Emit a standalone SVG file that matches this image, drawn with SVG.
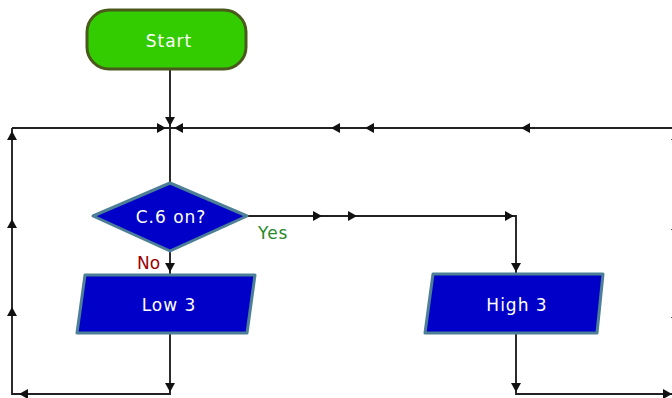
<svg xmlns="http://www.w3.org/2000/svg" xmlns:xlink="http://www.w3.org/1999/xlink" width="672" height="398" viewBox="0 0 672 398">
<style>
.ln{fill:none;stroke:#222;stroke-width:1.9}
.lbl{font-family:"DejaVu Sans",Verdana,sans-serif;font-size:17px;fill:#ffffff;text-anchor:middle;letter-spacing:1px}
.blue{fill:#0000c8;stroke:#4d7f96;stroke-width:3;stroke-linejoin:round}
.start{fill:#33cc00;stroke:#4a5a1c;stroke-width:3}
.yes{font-family:"DejaVu Sans",Verdana,sans-serif;font-size:17px;fill:#2a8a2a;letter-spacing:1px}
.no{font-family:"DejaVu Sans",Verdana,sans-serif;font-size:17px;fill:#990000}
</style>
<defs>
<path id="ah" d="M0,0 L-9,-5 L-9,5 Z" fill="#111"/>
</defs>
<g id="connectors">
<path class="ln" d="M170,70 V183"/>
<path class="ln" d="M12,128 H672"/>
<path class="ln" d="M12,128 V394 H170 V333"/>
<path class="ln" d="M247,216 H516 V274"/>
<path class="ln" d="M170,251 V274"/>
<path class="ln" d="M516,333 V394 H672"/>
<use xlink:href="#ah" transform="translate(170,126) rotate(90)"/>
<use xlink:href="#ah" transform="translate(166,128)"/>
<use xlink:href="#ah" transform="translate(174,128) rotate(180)"/>
<use xlink:href="#ah" transform="translate(331,128) rotate(180)"/>
<use xlink:href="#ah" transform="translate(365,128) rotate(180)"/>
<use xlink:href="#ah" transform="translate(521,128) rotate(180)"/>
<use xlink:href="#ah" transform="translate(12,131) rotate(-90)"/>
<use xlink:href="#ah" transform="translate(12,219) rotate(-90)"/>
<use xlink:href="#ah" transform="translate(12,307) rotate(-90)"/>
<use xlink:href="#ah" transform="translate(19,394) rotate(180)"/>
<use xlink:href="#ah" transform="translate(170,392) rotate(90)"/>
<use xlink:href="#ah" transform="translate(170,272) rotate(90)"/>
<use xlink:href="#ah" transform="translate(322,216)"/>
<use xlink:href="#ah" transform="translate(357,216)"/>
<use xlink:href="#ah" transform="translate(514,216)"/>
<use xlink:href="#ah" transform="translate(516,272) rotate(90)"/>
<use xlink:href="#ah" transform="translate(516,392) rotate(90)"/>
<use xlink:href="#ah" transform="translate(672,394)"/>
<use xlink:href="#ah" transform="translate(676,131) rotate(-90)"/>
<use xlink:href="#ah" transform="translate(676,221) rotate(-90)"/>
<use xlink:href="#ah" transform="translate(676,309) rotate(-90)"/>
</g>
<g id="start">
<rect class="start" x="87" y="10" width="159" height="59" rx="22" ry="22"/>
<text class="lbl" x="169" y="47">Start</text>
</g>
<g id="decision">
<path class="blue" d="M170,183 L247,216 L170,251 L93,216 Z"/>
<text class="lbl" x="171" y="223">C.6 on?</text>
<text class="yes" x="258" y="239">Yes</text>
<text class="no" x="137" y="269">No</text>
</g>
<g id="low3">
<path class="blue" d="M85,275 L255,275 L247,333 L77,333 Z"/>
<text class="lbl" x="169" y="311">Low 3</text>
</g>
<g id="high3">
<path class="blue" d="M433,274 L603,274 L597,333 L425,333 Z"/>
<text class="lbl" x="517" y="311">High 3</text>
</g>
</svg>
